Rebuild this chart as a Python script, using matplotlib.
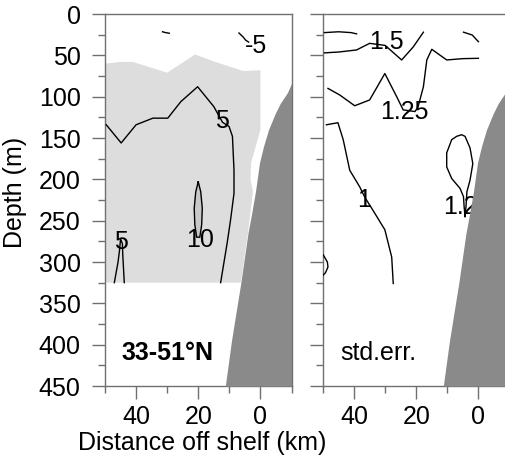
import matplotlib
matplotlib.use("Agg")
import matplotlib.pyplot as plt
from matplotlib.ticker import MultipleLocator, FixedLocator

plt.rcParams['font.family'] = ['Liberation Sans', 'DejaVu Sans']

# ---- section geometry -------------------------------------------------------
x_ticks = [40, 20, 0]
x_minor = [50, 30, 10, -10]
x_lim = (50, -10)
y_lim = (450, 0)

# shelf / slope bathymetry (distance km, depth m)
bathy_x = [-10, -8.7, -6.4, -4.8, -2.6, -1.0, 0.3, 1.6, 3.0, 4.0, 6.3, 9.3, 11.3]
bathy_d = [84, 95, 108, 120, 140, 160, 180, 215, 245, 265, 325, 395, 450]

# ---- mean velocity panel ----------------------------------------------------
# outline of the positive-velocity region (data reach 325 m)
pos_x = [50, 45, 41, 30, 21, 14.5, 5.5, 0, 0, 1.5, 3.0, 3.2, 2.4, 4.0, 6.3, 50]
pos_d = [60, 58, 58, 71, 49, 58, 69, 68, 140, 160, 180, 200, 215, 265, 325, 325]

# 10 cm/s core
core_x = [20, 20.8, 21.3, 21.1, 20.5, 19.5, 18.9, 18.7, 19.2, 20]
core_d = [203, 215, 235, 255, 270, 270, 255, 235, 215, 203]

c5_x = [49.6, 44.8, 40, 34.6, 29.8, 25.6, 20.2, 15, 12.2, 10.1, 9.0, 8.5, 8.5, 9.6, 10.7, 12.8]
c5_d = [134, 156, 134, 126, 126, 106, 88, 112, 131, 136, 148, 189, 217, 249, 277, 325]

c5b_x = [47.0, 45.8, 45.3, 45.0, 44.4, 44.3, 43.8]
c5b_d = [325, 300, 285, 272, 278, 290, 325]

cm5_x = [6.9, 5.5, 4.8, 3.8]
cm5_d = [23, 28, 31.5, 34]

cm5b_x = [31.5, 30.5, 29.3]
cm5b_d = [21.5, 22.5, 23.3]

left_labels = [("-5", 1.3, 39), ("5", 12.3, 129), ("10", 19.4, 273), ("5", 44.8, 276)]

# ---- standard error panel ---------------------------------------------------
e15a_x = [49.5, 45, 41, 39.2]
e15a_d = [22.5, 21.5, 22.5, 24]

e15b_x = [49.5, 45, 39.2, 35, 30, 24.7, 21, 17.7]
e15b_d = [47, 46, 43.5, 35.5, 38, 55.6, 40, 22]

e15c_x = [4.8, 2.0, 0]
e15c_d = [22, 25.4, 33.5]

e125_x = [48.4, 44.6, 39.8, 35, 30.1, 26.3, 24.2, 20.4, 19.4, 17.7, 16.6, 15, 10.2, 5, 0]
e125_d = [90, 98, 111, 104, 72, 100, 116, 118, 112, 88, 55.6, 42.7, 55.6, 54, 53.6]

e1_x = [48.9, 45.2, 43.5, 41.4, 38.2, 36.5, 34, 30.1, 27.9, 27.4]
e1_d = [134, 131.5, 152, 189, 209, 222, 237, 261, 294, 326]

e1b_x = [49.9, 48.6, 48.4, 49.2, 50]
e1b_d = [291.5, 300, 306, 313, 316]

eloop_x = [4.3, 4.0, 3.7, 2.7, 1.8, 2.7, 4.3, 5.4, 7.0, 8.6, 10.2, 10.2, 8.6, 5.9, 4.8, 4.6, 4.3]
eloop_d = [245, 233, 215, 201, 181, 162, 148, 146, 148, 152, 168, 185, 199, 211, 221, 233, 245]

right_labels = [("1.5", 29.6, 34), ("1.25", 23.7, 118), ("1", 36.9, 225)]

# ---- colours ----------------------------------------------------------------
light = "#dddddd"
core_col = "#c9c9c9"
land = "#8a8a8a"
spine_col = "#707070"
fs = 18

fig = plt.figure(figsize=(5.05, 4.68), dpi=100)
axL = fig.add_axes([105 / 505, 82 / 468, 186.5 / 505, 372 / 468])
axR = fig.add_axes([323 / 505, 82 / 468, 186.5 / 505, 372 / 468])

for ax in (axL, axR):
    ax.set_xlim(*x_lim)
    ax.set_ylim(*y_lim)
    ax.xaxis.set_major_locator(FixedLocator(x_ticks))
    ax.xaxis.set_minor_locator(FixedLocator(x_minor))
    ax.yaxis.set_major_locator(MultipleLocator(50))
    ax.yaxis.set_minor_locator(MultipleLocator(25))
    ax.tick_params(which='major', direction='out', length=9.5, width=1.0,
                   color=spine_col, labelsize=fs, top=False, right=False)
    ax.tick_params(which='minor', direction='out', length=5, width=1.0,
                   color=spine_col, top=False, right=False)
    ax.tick_params(axis='y', which='major', pad=8)
    ax.tick_params(axis='x', which='major', pad=4)
    for s in ax.spines.values():
        s.set_color(spine_col)
        s.set_linewidth(1.0)
    # bathymetry drawn over the contours and their labels
    ax.fill_betweenx(bathy_d, bathy_x, -10, color=land, lw=0, zorder=5)

axR.tick_params(axis='y', labelleft=False)

# left: mean velocity section
axL.fill(pos_x, pos_d, color=light, lw=0, zorder=1)
axL.fill(core_x, core_d, color=core_col, lw=0, zorder=2)
axL.plot(core_x, core_d, color='black', lw=1.0, zorder=3)
for xs, ds in ((c5_x, c5_d), (c5b_x, c5b_d), (cm5_x, cm5_d), (cm5b_x, cm5b_d)):
    axL.plot(xs, ds, color='black', lw=1.0, zorder=3)
for txt, x, d in left_labels:
    axL.text(x, d, txt, fontsize=fs, ha='center', va='center', zorder=4)
axL.text(0.09, 0.09, "33-51°N", transform=axL.transAxes, fontsize=fs,
         fontweight='bold', ha='left', va='center', zorder=6)

# right: standard error
for xs, ds in ((e15a_x, e15a_d), (e15b_x, e15b_d), (e15c_x, e15c_d),
               (e125_x, e125_d), (e1_x, e1_d), (e1b_x, e1b_d), (eloop_x, eloop_d)):
    axR.plot(xs, ds, color='black', lw=1.0, zorder=3)
for txt, x, d in right_labels:
    axR.text(x, d, txt, fontsize=fs, ha='center', va='center', zorder=4)
axR.text(11.4, 233, "1.25", fontsize=fs, ha='left', va='center', zorder=4)
axR.text(0.09, 0.09, "std.err.", transform=axR.transAxes, fontsize=fs,
         ha='left', va='center', zorder=6)

fig.text(202 / 505, 1 - 443 / 468, "Distance off shelf (km)", fontsize=fs,
         ha='center', va='center')
fig.text(15 / 505, 1 - 192 / 468, "Depth (m)", fontsize=fs, rotation=90,
         ha='center', va='center')

fig.savefig("out.png", dpi=100)
